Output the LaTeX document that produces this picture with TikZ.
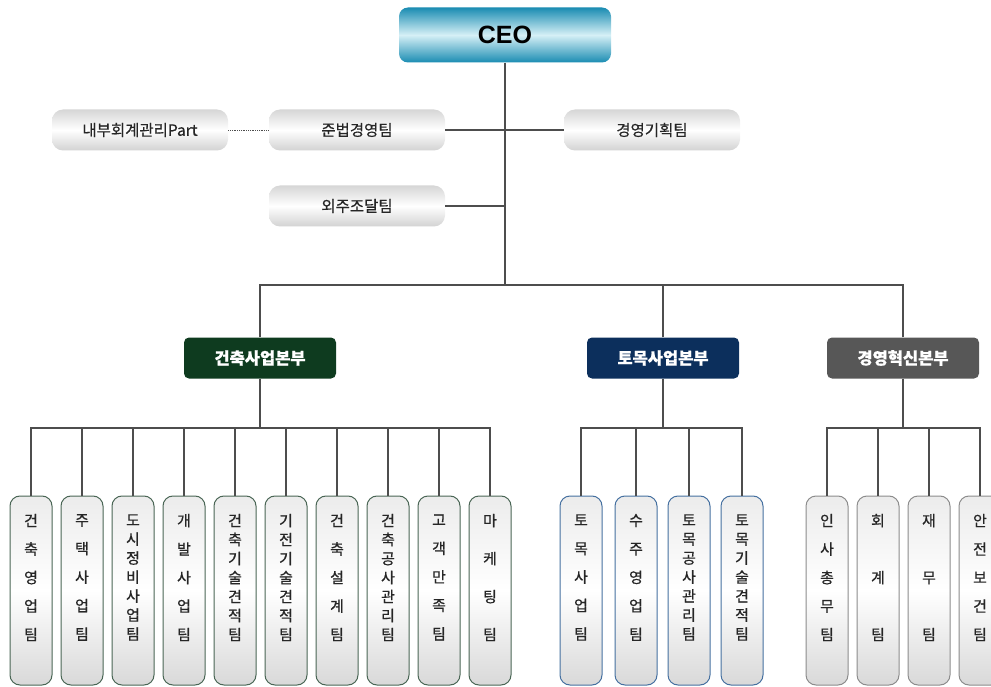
\documentclass[tikz,border=0pt]{standalone}
\usepackage{fontspec}
\setmainfont{Liberation Sans}
\newfontfamily\kr[FakeBold=0.6]{Noto Sans CJK KR}
\usepackage{tikz}
\definecolor{ceoteal}{HTML}{1A8CB2}
\definecolor{ceolight}{HTML}{D6F0F6}
\definecolor{hqgreen}{HTML}{0E3B1F}
\definecolor{hqblue}{HTML}{0C2F5C}
\definecolor{hqgray}{HTML}{575757}
\definecolor{linegray}{HTML}{4D4D4D}
\definecolor{edgegreen}{HTML}{4A6655}
\definecolor{edgeblue}{HTML}{4570A0}
\definecolor{edgegray}{HTML}{8C8C8C}

\begin{document}
\begin{tikzpicture}[x=1pt,y=-1pt,
		conn/.style={draw=linegray, line width=1.1pt},
		ceo/.style={rounded corners=9pt, minimum width=212pt, minimum height=55pt,
			top color=ceoteal, bottom color=ceoteal, middle color=ceolight,
			font=\bfseries\fontsize{25}{28}\selectfont},
		staff/.style={rounded corners=11pt, minimum width=176pt, minimum height=41pt,
			top color=gray!32, bottom color=gray!35, middle color=white,
			text=black!85, font=\kr\fontsize{15.5}{18}\selectfont},
		hq/.style={rounded corners=5pt, minimum width=152pt, minimum height=41pt,
			text=white, font=\kr\bfseries\fontsize{16.5}{19}\selectfont},
		team/.style={rounded corners=10pt, line width=1pt, minimum width=42pt, minimum height=189pt,
			top color=gray!15, bottom color=gray!30, middle color=white, align=center,
			text depth=27pt, text=black!85, font=\kr\fontsize{15}{#1}\selectfont}]
			\path[use as bounding box] (0,0) rectangle (991,687);
			\clip (0,0) rectangle (991,687);
			
			\node[ceo] (ceo) at (505,35) {CEO};
			
			\node[staff] (audit) at (140,130) {내부회계관리Part};
			\node[staff] (comp) at (357,130) {준법경영팀};
			\node[staff] (plan) at (652,130) {경영기획팀};
			\node[staff] (outs) at (357,206) {외주조달팀};
			
			\coordinate (hub) at (505,285);
			\draw[conn] (ceo.south) -- (hub);
			\draw[conn] (comp.east) -- (comp.east -| hub);
			\draw[conn] (plan.west) -- (plan.west -| hub);
			\draw[conn] (outs.east) -- (outs.east -| hub);
			\draw[linegray, line width=0.8pt, densely dotted] (audit.east) -- (comp.west);
			
			\node[hq, fill=hqgreen] (arch) at (260,358) {건축사업본부};
			\node[hq, fill=hqblue] (civil) at (663,358) {토목사업본부};
			\node[hq, fill=hqgray] (inno) at (903,358) {경영혁신본부};
			
			\draw[conn] (arch.north) |- (hub);
			\draw[conn] (civil.north) |- (hub);
			\draw[conn] (inno.north) |- (hub);
			
			\coordinate (busA) at (260,428);
			\coordinate (busB) at (663,428);
			\coordinate (busC) at (903,428);
			\draw[conn] (arch.south) -- (busA);
			\draw[conn] (civil.south) -- (busB);
			\draw[conn] (inno.south) -- (busC);
			
			\node[team=28.5, draw=edgegreen] (a1) at (31,590.5) {건\\축\\영\\업\\팀};
			\node[team=28.5, draw=edgegreen] (a2) at (82,590.5) {주\\택\\사\\업\\팀};
			\node[team=19, draw=edgegreen] (a3) at (133,590.5) {도\\시\\정\\비\\사\\업\\팀};
			\node[team=28.5, draw=edgegreen] (a4) at (184,590.5) {개\\발\\사\\업\\팀};
			\node[team=19, draw=edgegreen] (a5) at (235,590.5) {건\\축\\기\\술\\견\\적\\팀};
			\node[team=19, draw=edgegreen] (a6) at (286,590.5) {기\\전\\기\\술\\견\\적\\팀};
			\node[team=28.5, draw=edgegreen] (a7) at (337,590.5) {건\\축\\설\\계\\팀};
			\node[team=19, draw=edgegreen] (a8) at (388,590.5) {건\\축\\공\\사\\관\\리\\팀};
			\node[team=28.5, draw=edgegreen] (a9) at (439,590.5) {고\\객\\만\\족\\팀};
			\node[team=38, draw=edgegreen] (a10) at (490,590.5) {마\\케\\팅\\팀};
			
			\node[team=28.5, draw=edgeblue] (b1) at (581,590.5) {토\\목\\사\\업\\팀};
			\node[team=28.5, draw=edgeblue] (b2) at (636,590.5) {수\\주\\영\\업\\팀};
			\node[team=19, draw=edgeblue] (b3) at (689,590.5) {토\\목\\공\\사\\관\\리\\팀};
			\node[team=19, draw=edgeblue] (b4) at (742,590.5) {토\\목\\기\\술\\견\\적\\팀};
			
			\node[team=28.5, draw=edgegray] (c1) at (827,590.5) {인\\사\\총\\무\\팀};
			\node[team=57, draw=edgegray] (c2) at (878,590.5) {회\\계\\팀};
			\node[team=57, draw=edgegray] (c3) at (929,590.5) {재\\무\\팀};
			\node[team=28.5, draw=edgegray] (c4) at (980,590.5) {안\\전\\보\\건\\팀};
			
			\draw[conn] (a1.north) |- (busA);
			\draw[conn] (a2.north) |- (busA);
			\draw[conn] (a3.north) |- (busA);
			\draw[conn] (a4.north) |- (busA);
			\draw[conn] (a5.north) |- (busA);
			\draw[conn] (a6.north) |- (busA);
			\draw[conn] (a7.north) |- (busA);
			\draw[conn] (a8.north) |- (busA);
			\draw[conn] (a9.north) |- (busA);
			\draw[conn] (a10.north) |- (busA);
			
			\draw[conn] (b1.north) |- (busB);
			\draw[conn] (b2.north) |- (busB);
			\draw[conn] (b3.north) |- (busB);
			\draw[conn] (b4.north) |- (busB);
			
			\draw[conn] (c1.north) |- (busC);
			\draw[conn] (c2.north) |- (busC);
			\draw[conn] (c3.north) |- (busC);
			\draw[conn] (c4.north) |- (busC);
		\end{tikzpicture}
\end{document}
